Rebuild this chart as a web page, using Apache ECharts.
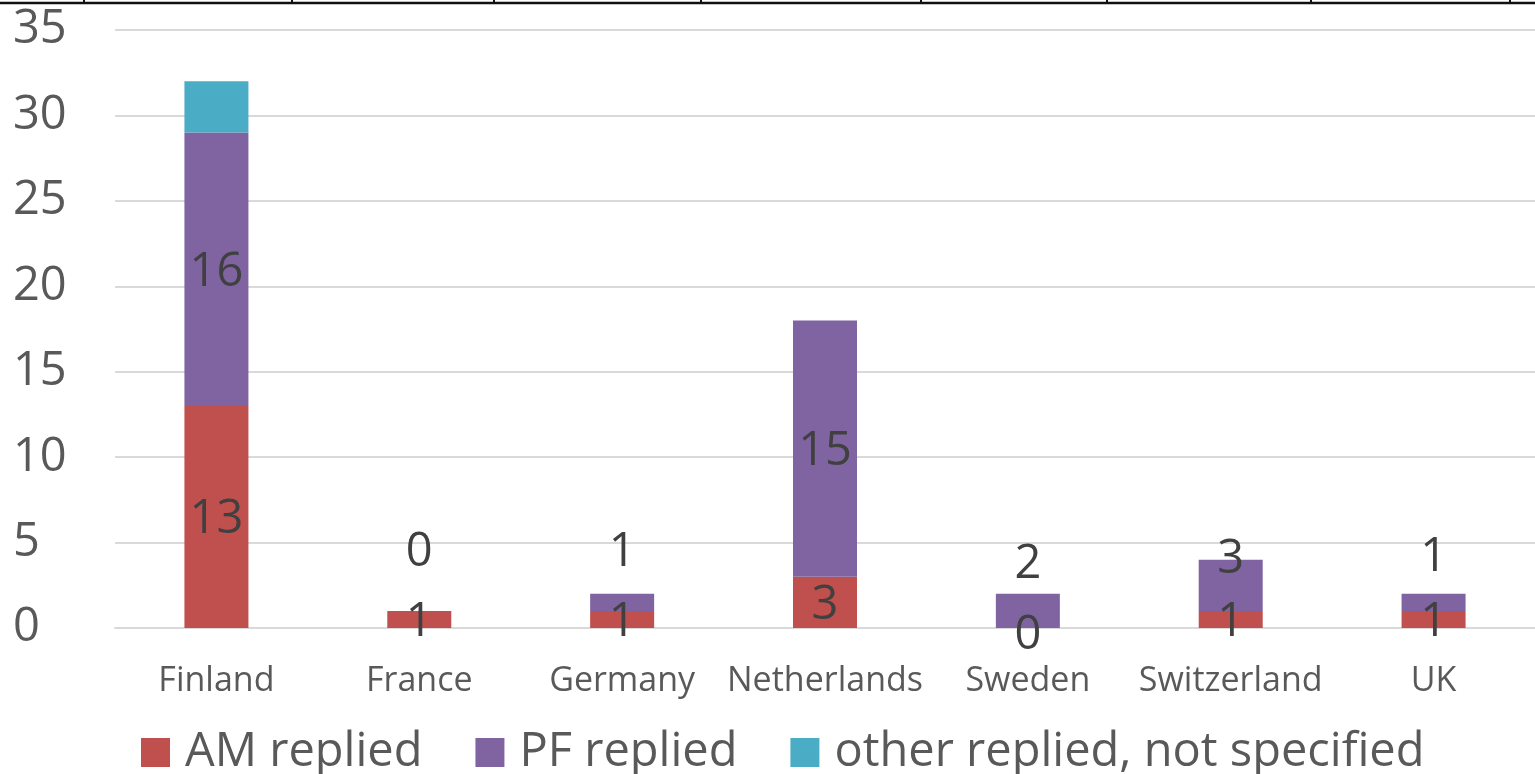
<!DOCTYPE html>
<html>
<head>
<meta charset="utf-8">
<script src="https://cdn.jsdelivr.net/npm/echarts@6/dist/echarts.min.js"></script>
<style>
html,body{margin:0;padding:0;background:#fff;}
#chart{width:1535px;height:774px;}
</style>
</head>
<body>
<div id="chart"></div>
<script>
const categories = ['Finland', 'France', 'Germany', 'Netherlands', 'Sweden', 'Switzerland', 'UK'];
const amReplied = [13, 1, 1, 3, 0, 1, 1];
const pfReplied = [16, 0, 1, 15, 2, 3, 1];
const otherReplied = [3, 0, 0, 0, 0, 0, 0];
const seriesNames = ['AM replied', 'PF replied', 'other replied, not specified'];
const yTicks = [0, 5, 10, 15, 20, 25, 30, 35];

// decoration: cropped frame line at the top of the picture
const frameTickX = [84, 292, 494, 701, 921, 1107, 1311, 1510];
// manual label lifts (px) for labels moved by hand in the original
const pfLabelLift = {France: -58, Germany: -50, Sweden: -46, Switzerland: -26, UK: -45};
const amLabelLift = {Sweden: 8};
const LABEL_DROP = 3;

const FONT = "'Open Sans', 'Noto Sans', sans-serif";
const chart = echarts.init(document.getElementById('chart'), null, {renderer: 'canvas'});

const labelBase = {
  show: true, position: 'inside', fontFamily: FONT, fontSize: 47, color: '#404040',
  offset: [0, LABEL_DROP]
};

function withLifts(values, lifts) {
  return values.map((v, i) => {
    const lift = lifts[categories[i]];
    return lift ? {value: v, label: {offset: [0, lift]}} : v;
  });
}

const graphics = [{
  type: 'line', shape: {x1: 0, y1: 3, x2: 1535, y2: 3},
  style: {stroke: '#111', lineWidth: 2.5}, silent: true
}].concat(frameTickX.map(x => ({
  type: 'line', shape: {x1: x, y1: 0, x2: x, y2: 3},
  style: {stroke: '#111', lineWidth: 2}, silent: true
})));

chart.setOption({
  animation: false,
  backgroundColor: '#fff',
  color: ['#C0504D', '#8064A2', '#4BACC6'],
  graphic: graphics,
  grid: {left: 115, right: 0, top: 30, bottom: 146, containLabel: false},
  legend: {
    data: seriesNames,
    left: 136,
    top: 724,
    itemWidth: 29,
    itemHeight: 29,
    itemGap: 53,
    icon: 'rect',
    textStyle: {fontFamily: FONT, fontSize: 47, color: '#595959', padding: [0, 0, 0, 10]}
  },
  xAxis: {
    type: 'category',
    data: categories,
    axisLine: {lineStyle: {color: '#d9d9d9', width: 2}},
    axisTick: {show: false},
    axisLabel: {fontFamily: FONT, fontSize: 34, color: '#595959', margin: 36, interval: 0}
  },
  yAxis: {
    type: 'value',
    min: 0, max: 35, interval: 5,
    axisLine: {show: false},
    axisTick: {show: false},
    splitLine: {lineStyle: {color: '#d9d9d9', width: 2}},
    axisLabel: {
      fontFamily: FONT, fontSize: 47, color: '#595959', align: 'left', margin: 102,
      formatter: v => yTicks.includes(v) ? String(v) : ''
    }
  },
  series: [
    {name: seriesNames[0], type: 'bar', stack: 'total', barWidth: 64,
     data: withLifts(amReplied, amLabelLift), label: labelBase},
    {name: seriesNames[1], type: 'bar', stack: 'total', barWidth: 64,
     data: withLifts(pfReplied, pfLabelLift), label: labelBase},
    {name: seriesNames[2], type: 'bar', stack: 'total', barWidth: 64,
     data: otherReplied, label: {show: false}}
  ]
});
</script>
</body>
</html>
